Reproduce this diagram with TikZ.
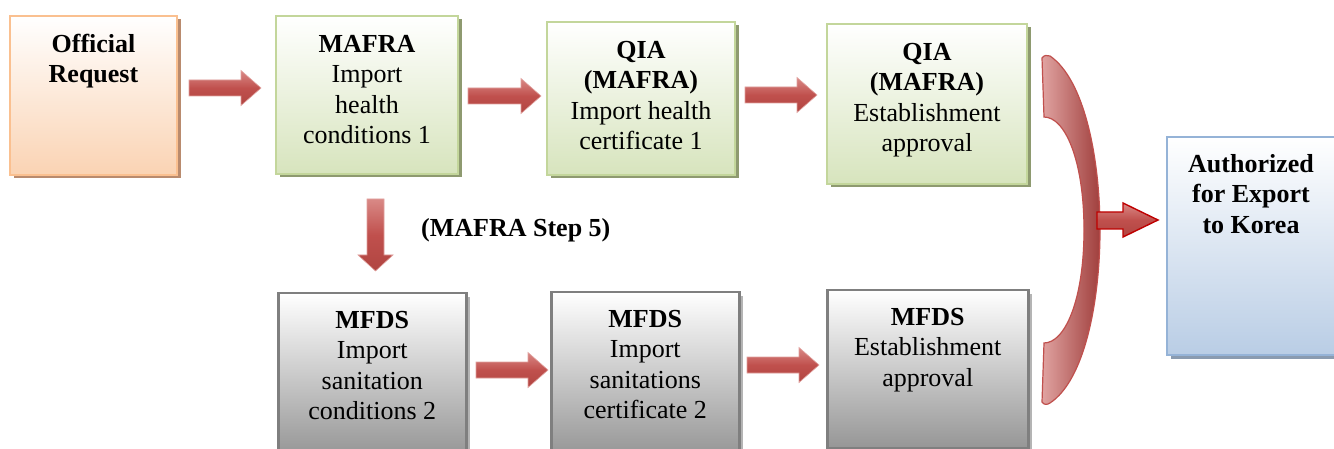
\documentclass[tikz,border=0pt]{standalone}
\usepackage{fontspec}
\setmainfont{Liberation Serif}
\newfontfamily\tnr{Liberation Serif}
\usetikzlibrary{shadows}
\definecolor{orB}{HTML}{FAC090}
\definecolor{orF}{HTML}{FAD3B3}
\definecolor{orS}{HTML}{B98B6E}
\definecolor{grB}{HTML}{C3D69B}
\definecolor{grF}{HTML}{D7E4BD}
\definecolor{grS}{HTML}{8E9A70}
\definecolor{blB}{HTML}{95B3D7}
\definecolor{blF}{HTML}{B9CDE5}
\definecolor{blS}{HTML}{8A9BB0}
\definecolor{gyB}{HTML}{7F7F7F}
\definecolor{gyF}{HTML}{969696}
\definecolor{gyS}{HTML}{B4B4B4}
\definecolor{arT}{HTML}{D98986}
\definecolor{arM}{HTML}{C0504D}
\definecolor{arD}{HTML}{B04541}
\definecolor{brL}{HTML}{E0A3A1}
\definecolor{brR}{HTML}{A03F3D}
\newcommand\fl{\rule{0pt}{21pt}}
\newcommand\rarrow[3]{%
  \path[arr] (#1,#3-8) -- (#2-20,#3-8) -- (#2-20,#3-17.5) -- (#2,#3)
    -- (#2-20,#3+17.5) -- (#2-20,#3+8) -- (#1,#3+8) -- cycle;}
\begin{document}
\begin{tikzpicture}[x=1pt,y=-1pt,
  box/.style={rectangle, inner sep=0pt, anchor=north west, line width=2pt,
    general shadow={shadow xshift=3.5pt, shadow yshift=-3.5pt, fill=#1}},
  obox/.style={box=orS, draw=orB, top color=white, bottom color=orF},
  gbox/.style={box=grS, draw=grB, top color=white, bottom color=grF},
  bbox/.style={box=blS, draw=blB, top color=white, bottom color=blF},
  ybox/.style={box=gyS, draw=gyB, line width=2.5pt, top color=white, bottom color=gyF},
  txt/.style={anchor=north, align=center, inner sep=0pt, font=\tnr\fontsize{26}{30.5}\selectfont},
  arr/.style={draw=arT!80!white, line width=0.6pt, top color=arT, bottom color=arD, middle color=arM},
]
\useasboundingbox (0,0) rectangle (1334,449);
\fill[white] (0,0) rectangle (1334,449);
\clip (0,0) rectangle (1334,449);

% top row
\node[obox, minimum width=167pt, minimum height=159pt] (off) at (9,15) {};
\node[txt] (offT) at ([yshift=-16pt]off.north) {\fl\textbf{Official}\\\textbf{Request}};

\node[gbox, minimum width=182pt, minimum height=158pt] (mafra) at (275,15) {};
\node[txt] (mafraT) at ([yshift=-16pt]mafra.north) {\fl\textbf{MAFRA}\\Import\\health\\conditions 1};

\node[gbox, minimum width=188pt, minimum height=153pt] (qia1) at (546,21) {};
\node[txt] (qia1T) at ([yshift=-16pt]qia1.north) {\fl\textbf{QIA}\\\textbf{(MAFRA)}\\Import health\\certificate 1};

\node[gbox, minimum width=200pt, minimum height=160pt] (qia2) at (826,23) {};
\node[txt] (qia2T) at ([yshift=-16pt]qia2.north) {\fl\textbf{QIA}\\\textbf{(MAFRA)}\\Establishment\\approval};

% bottom row
\node[ybox, minimum width=188pt, minimum height=162pt] (mfds1) at (277,292) {};
\node[txt] (mfds1T) at ([yshift=-15pt]mfds1.north) {\fl\textbf{MFDS}\\Import\\sanitation\\conditions 2};

\node[ybox, minimum width=188pt, minimum height=163pt] (mfds2) at (550,291) {};
\node[txt] (mfds2T) at ([yshift=-15pt]mfds2.north) {\fl\textbf{MFDS}\\Import\\sanitations\\certificate 2};

\node[ybox, minimum width=201pt, minimum height=158pt] (mfds3) at (826,289) {};
\node[txt] (mfds3T) at ([yshift=-15pt]mfds3.north) {\fl\textbf{MFDS}\\Establishment\\approval};

% result
\node[bbox, minimum width=172pt, minimum height=218pt] (auth) at (1166,136) {};
\node[txt] (authT) at ([xshift=-2pt,yshift=-15pt]auth.north) {\fl\textbf{Authorized}\\\textbf{for Export}\\\textbf{to Korea}};

% step label
\node[txt, anchor=base west] (step) at (421,237) {\textbf{(MAFRA Step 5)}};

% block arrows
\rarrow{189}{261}{88}
\rarrow{468}{541}{96}
\rarrow{745}{817}{95}
\rarrow{476}{548}{370}
\rarrow{747}{819}{365}
\path[arr] (367,199) -- (384,199) -- (384,255) -- (393,255) -- (375.5,271)
  -- (358,255) -- (367,255) -- cycle;

% bracket
\path[draw=arM, line width=1.2pt, left color=brL, right color=brR]
  (1042,58) .. controls (1044,55) and (1047,55) .. (1050,56)
  .. controls (1085,80) and (1100,160) .. (1100,230)
  .. controls (1100,300) and (1085,380) .. (1050,403)
  .. controls (1047,405) and (1044,405) .. (1042,402)
  -- (1044,343)
  .. controls (1065,343) and (1084,300) .. (1084,230)
  .. controls (1084,160) and (1065,117) .. (1044,117)
  -- cycle;
\path[draw=red!75!black, line width=1.4pt, top color=arT, bottom color=arD, middle color=arM]
  (1097,212) -- (1123,212) -- (1123,203) -- (1158,220) -- (1123,237)
  -- (1123,229) -- (1097,229) -- cycle;
\end{tikzpicture}
\end{document}
